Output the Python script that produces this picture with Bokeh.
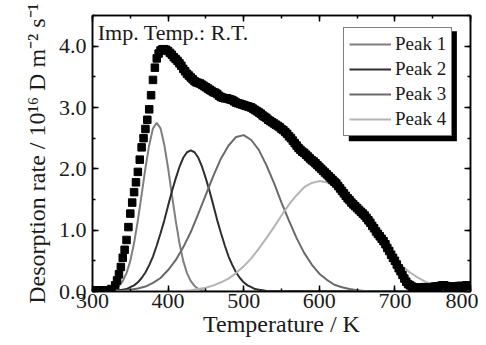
from bokeh.plotting import figure
from bokeh.models import (Range1d, LinearAxis, SingleIntervalTicker, NumeralTickFormatter,
                          Legend, LegendItem, BoxAnnotation, Label)
from bokeh.embed import file_html
from bokeh.resources import INLINE

# ---- measured desorption rate (10^16 D m^-2 s^-1) vs temperature (K), read in three segments
rise_T = [300, 305, 310, 315, 320, 325, 330, 332.5, 335, 337.5, 340, 342.5, 345, 347.5, 350,
          352.5, 355, 357.5, 360, 362.5, 365, 367.5, 370, 372.5, 375, 377.5, 380, 382.5, 385,
          387.5, 390]
rise_rate = [0.02, 0.02, 0.01, 0.02, 0.02, 0.04, 0.10, 0.18, 0.28, 0.40, 0.55, 0.68, 0.84, 1.05, 1.27,
             1.45, 1.62, 1.78, 1.95, 2.15, 2.35, 2.50, 2.65, 2.80, 2.97, 3.20, 3.45, 3.65, 3.80,
             3.88, 3.93]

mid_T = [392.5, 395, 397.5, 400, 402.5, 405, 407.5, 410, 412.5, 415, 417.5, 420, 422.5, 425, 427.5,
         430, 432.5, 435, 437.5, 440, 442.5, 445, 447.5, 450, 452.5, 455, 457.5, 460, 462.5, 465,
         467.5, 470, 472.5, 475, 477.5, 480, 482.5, 485, 487.5, 490, 492.5, 495, 497.5, 500, 502.5,
         505, 507.5, 510, 512.5, 515, 517.5, 520, 522.5, 525, 527.5, 530, 532.5, 535, 537.5, 540,
         542.5, 545, 547.5, 550, 552.5, 555, 557.5, 560, 562.5, 565, 567.5, 570, 572.5, 575, 577.5,
         580, 582.5, 585, 587.5, 590, 592.5, 595, 597.5, 600]
mid_rate = [3.95, 3.95, 3.94, 3.92, 3.89, 3.86, 3.82, 3.79, 3.76, 3.72, 3.68, 3.63, 3.59, 3.55, 3.52,
            3.49, 3.46, 3.43, 3.41, 3.40, 3.39, 3.37, 3.35, 3.33, 3.31, 3.29, 3.27, 3.25, 3.24, 3.22,
            3.19, 3.17, 3.16, 3.15, 3.15, 3.14, 3.13, 3.12, 3.10, 3.08, 3.07, 3.06, 3.05, 3.04, 3.03,
            3.02, 3.01, 3.00, 2.98, 2.96, 2.94, 2.92, 2.90, 2.87, 2.85, 2.83, 2.80, 2.78, 2.76, 2.74,
            2.72, 2.70, 2.68, 2.65, 2.63, 2.60, 2.57, 2.53, 2.50, 2.46, 2.42, 2.38, 2.34, 2.31, 2.28,
            2.26, 2.23, 2.20, 2.17, 2.14, 2.12, 2.09, 2.06, 2.03]

tail_T = [602.5, 605, 607.5, 610, 612.5, 615, 617.5, 620, 622.5, 625, 627.5, 630, 632.5, 635, 637.5,
          640, 642.5, 645, 647.5, 650, 652.5, 655, 657.5, 660, 662.5, 665, 667.5, 670, 672.5, 675,
          677.5, 680, 682.5, 685, 687.5, 690, 692.5, 695, 697.5, 700, 702.5, 705, 707.5, 710, 712.5,
          715, 717.5, 720, 722.5, 725, 727.5, 730, 732.5, 735, 737.5, 740, 742.5, 745, 747.5, 750,
          752.5, 755, 757.5, 760, 762.5, 765, 767.5, 770, 772.5, 775, 777.5, 780, 782.5, 785, 787.5,
          790, 792.5, 795, 797.5, 800]
tail_rate = [2.00, 1.97, 1.94, 1.91, 1.88, 1.85, 1.82, 1.79, 1.76, 1.72, 1.68, 1.64, 1.60, 1.56, 1.52,
             1.49, 1.45, 1.42, 1.39, 1.36, 1.33, 1.30, 1.27, 1.24, 1.20, 1.16, 1.12, 1.07, 1.03, 0.98,
             0.94, 0.90, 0.86, 0.82, 0.77, 0.71, 0.66, 0.60, 0.55, 0.50, 0.44, 0.38, 0.33, 0.27, 0.21,
             0.16, 0.12, 0.10, 0.08, 0.07, 0.06, 0.06, 0.06, 0.06, 0.07, 0.07, 0.06, 0.06, 0.06, 0.07,
             0.08, 0.08, 0.08, 0.09, 0.10, 0.10, 0.09, 0.08, 0.07, 0.07, 0.08, 0.08, 0.08, 0.09, 0.09,
             0.08, 0.09, 0.10, 0.10, 0.09]

# ---- fitted peak components
peak1_T = [300, 315, 320, 325, 330, 335, 340, 345, 350, 355, 360, 365, 370, 375, 380, 385, 390,
           395, 400, 405, 410, 415, 420, 425, 430, 435, 440, 445, 450, 455, 800]
peak1 = [0.00, 0.00, 0.01, 0.02, 0.04, 0.09, 0.17, 0.30, 0.50, 0.79, 1.16, 1.58, 2.01, 2.39, 2.66,
         2.75, 2.66, 2.39, 2.01, 1.58, 1.16, 0.79, 0.50, 0.30, 0.17, 0.09, 0.04, 0.02, 0.01, 0.00, 0.00]

peak2_T = [300, 330, 335, 340, 345, 350, 355, 360, 365, 370, 375, 380, 385, 390, 395, 400, 405,
           410, 415, 420, 425, 430, 435, 440, 445, 450, 455, 460, 465, 470, 475, 480, 485, 490,
           495, 500, 505, 510, 515, 520, 525, 530, 800]
peak2 = [0.00, 0.01, 0.02, 0.03, 0.04, 0.07, 0.10, 0.15, 0.22, 0.31, 0.43, 0.57, 0.75, 0.95, 1.16,
         1.40, 1.63, 1.84, 2.03, 2.18, 2.27, 2.30, 2.27, 2.18, 2.03, 1.84, 1.63, 1.40, 1.16, 0.95,
         0.75, 0.57, 0.43, 0.31, 0.22, 0.15, 0.10, 0.07, 0.04, 0.03, 0.02, 0.01, 0.00]

peak3_T = [300, 320, 330, 340, 350, 360, 370, 380, 390, 400, 410, 420, 430, 440, 450, 460, 470,
           480, 490, 500, 510, 520, 530, 540, 550, 560, 570, 580, 590, 600, 610, 620, 630, 640,
           650, 660, 670, 800]
peak3 = [0.00, 0.00, 0.01, 0.01, 0.03, 0.05, 0.08, 0.14, 0.22, 0.35, 0.51, 0.72, 0.97, 1.27, 1.58,
         1.89, 2.17, 2.38, 2.52, 2.55, 2.47, 2.31, 2.06, 1.77, 1.45, 1.15, 0.87, 0.63, 0.44, 0.29,
         0.19, 0.11, 0.07, 0.04, 0.02, 0.01, 0.00, 0.00]

peak4_T = [300, 400, 410, 420, 430, 440, 450, 460, 470, 480, 490, 500, 510, 520, 530, 540, 550,
           560, 570, 580, 590, 600, 610, 620, 630, 640, 650, 660, 670, 680, 690, 700, 710, 720,
           730, 740, 750, 760, 770, 780, 790, 800]
peak4 = [0.00, 0.00, 0.01, 0.01, 0.02, 0.04, 0.06, 0.10, 0.15, 0.21, 0.30, 0.41, 0.54, 0.70, 0.87,
         1.05, 1.24, 1.42, 1.57, 1.70, 1.77, 1.80, 1.78, 1.71, 1.61, 1.48, 1.33, 1.16, 0.99, 0.82,
         0.67, 0.53, 0.41, 0.31, 0.23, 0.16, 0.12, 0.08, 0.05, 0.03, 0.02, 0.01]

peak_labels = ["Peak 1", "Peak 2", "Peak 3", "Peak 4"]
peak_colors = ["#7f7f7f", "#2e2e2e", "#6a6a6a", "#b4b4b4"]

x_ticks_interval = 100
y_ticks_interval = 1.0

FONT = "Liberation Serif"

temperature = rise_T + mid_T + tail_T
rate = rise_rate + mid_rate + tail_rate

p = figure(width=478, height=345, output_backend="svg", toolbar_location=None,
           x_range=Range1d(300, 800), y_range=Range1d(0, 4.5),
           min_border_left=92, min_border_right=8, min_border_top=15, min_border_bottom=54)
p.xgrid.visible = False
p.ygrid.visible = False
p.outline_line_color = "black"
p.outline_line_width = 1.5
p.background_fill_color = "white"
p.border_fill_color = "white"

renderers = []
for xs, ys, c in [(peak1_T, peak1, peak_colors[0]), (peak2_T, peak2, peak_colors[1]),
                  (peak3_T, peak3, peak_colors[2]), (peak4_T, peak4, peak_colors[3])]:
    renderers.append(p.line(xs, ys, line_color=c, line_width=2))

p.scatter(temperature, rate, marker="square", size=7.5, fill_color="black", line_color="black")


def style_axis(ax, interval, show_labels):
    ax.ticker = SingleIntervalTicker(interval=interval, num_minor_ticks=2)
    ax.major_tick_in = 6
    ax.major_tick_out = 0
    ax.minor_tick_in = 3
    ax.minor_tick_out = 0
    ax.axis_line_color = "black"
    ax.axis_line_width = 1.5
    ax.major_tick_line_color = "black"
    ax.major_tick_line_width = 1.5
    ax.minor_tick_line_color = "black"
    ax.minor_tick_line_width = 1.5
    if show_labels:
        ax.major_label_text_font = FONT
        ax.major_label_text_font_size = "22px"
        ax.major_label_text_color = "#1a1a1a"
        ax.axis_label_text_font = FONT
        ax.axis_label_text_font_style = "normal"
        ax.axis_label_text_font_size = "24px"
        ax.axis_label_text_color = "#1a1a1a"
    else:
        ax.major_label_text_font_size = "1px"
        ax.major_label_text_color = None
        ax.major_label_standoff = 0


xa = p.xaxis[0]
style_axis(xa, x_ticks_interval, True)
xa.axis_label = "Temperature / K"
xa.major_label_standoff = 2
xa.axis_label_standoff = 0

ya = p.yaxis[0]
style_axis(ya, y_ticks_interval, True)
ya.formatter = NumeralTickFormatter(format="0.0")
ya.axis_label = "Desorption rate / 10¹⁶ D m⁻² s⁻¹"
ya.major_label_standoff = 6
ya.axis_label_standoff = 6

top = LinearAxis()
style_axis(top, x_ticks_interval, False)
p.add_layout(top, "above")
right = LinearAxis()
style_axis(right, y_ticks_interval, False)
p.add_layout(right, "right")

p.add_layout(Label(x=307, y=4.42, text="Imp. Temp.: R.T.", text_font=FONT,
                   text_font_size="22px", text_baseline="top", text_color="#1a1a1a"))

# legend drop shadow
p.add_layout(BoxAnnotation(left=639, right=782, top=4.245, bottom=2.45,
                           fill_color="black", fill_alpha=1.0, line_color=None))

legend = Legend(items=[LegendItem(label=l, renderers=[r]) for l, r in zip(peak_labels, renderers)],
                location=(251, 155))
legend.label_text_font = FONT
legend.label_text_font_size = "19px"
legend.label_text_color = "#1a1a1a"
legend.border_line_color = "black"
legend.border_line_width = 1
legend.background_fill_color = "white"
legend.background_fill_alpha = 1.0
legend.glyph_width = 42
legend.glyph_height = 20
legend.label_height = 20
legend.spacing = 3
legend.padding = 5
legend.margin = 0
legend.label_standoff = 4
p.add_layout(legend)

open("out.html", "w").write(file_html(p, INLINE))
